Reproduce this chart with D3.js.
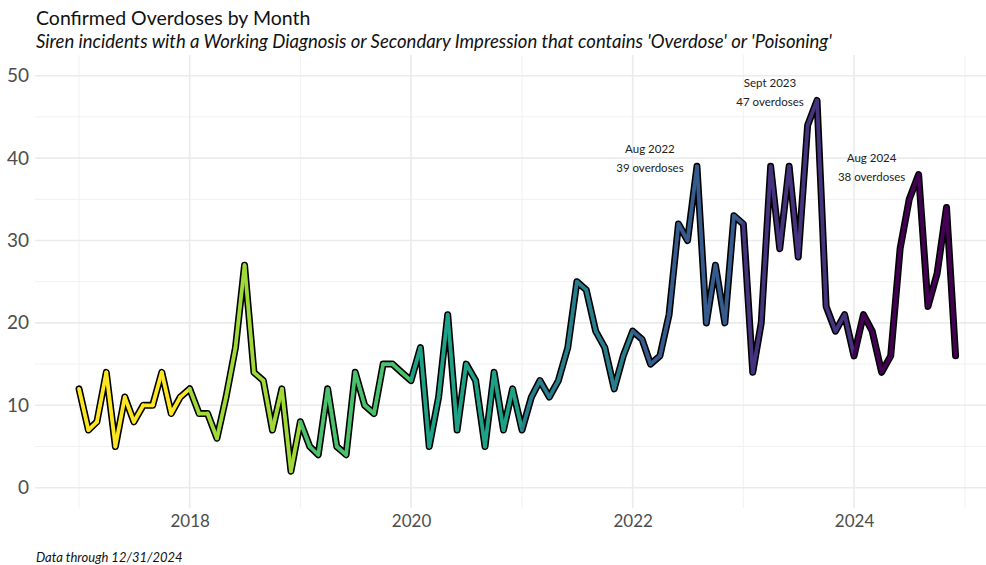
<!DOCTYPE html>
<html>
<head>
<meta charset="utf-8">
<script src="https://cdn.jsdelivr.net/npm/d3@7"></script>
<style>
  html, body { margin: 0; padding: 0; background: #ffffff; }
  svg { display: block; }
  text { font-family: Lato, "Open Sans", "Noto Sans", sans-serif; }
</style>
</head>
<body>
<svg id="chart" width="986" height="565"></svg>
<script>
// ---------- data ----------
const years = [2017, 2018, 2019, 2020, 2021, 2022, 2023, 2024];
const values2017 = [12, 7, 8, 14, 5, 11, 8, 10, 10, 14, 9, 11];
const values2018 = [12, 9, 9, 6, 11, 17, 27, 14, 13, 7, 12, 2];
const values2019 = [8, 5, 4, 12, 5, 4, 14, 10, 9, 15, 15, 14];
const values2020 = [13, 17, 5, 11, 21, 7, 15, 13, 5, 14, 7, 12];
const values2021 = [7, 11, 13, 11, 13, 17, 25, 24, 19, 17, 12, 16];
const values2022 = [19, 18, 15, 16, 21, 32, 30, 39, 20, 27, 20, 33];
const values2023 = [32, 14, 20, 39, 29, 39, 28, 44, 47, 22, 19, 21];
const values2024 = [16, 21, 19, 14, 16, 29, 35, 38, 22, 26, 34, 16];
const yearColors = ["#FDE725", "#9FDA3A", "#4AC16D", "#1FA187", "#277F8E", "#365C8D", "#46337E", "#440154"];
const yTicks = [0, 10, 20, 30, 40, 50];
const xTickYears = [2018, 2020, 2022, 2024];
const annotationMonths = ["2022-08", "2023-09", "2024-08"];
const annotationTitles = ["Aug 2022", "Sept 2023", "Aug 2024"];
const annotationTexts = ["39 overdoses", "47 overdoses", "38 overdoses"];
const titleText = "Confirmed Overdoses by Month";
const subtitleText = "Siren incidents with a Working Diagnosis or Secondary Impression that contains 'Overdose' or 'Poisoning'";
const captionText = "Data through 12/31/2024";

// ---------- build rows ----------
const parseMonth = d3.timeParse("%Y-%m");
const allValues = [values2017, values2018, values2019, values2020, values2021, values2022, values2023, values2024];
const rows = [];
allValues.forEach((arr, yi) => {
  arr.forEach((v, mi) => {
    rows.push({ date: new Date(years[yi], mi, 1), year: years[yi], value: v });
  });
});

// ---------- layout ----------
const svg = d3.select("#chart");
const panel = { left: 35, right: 986, top: 55, bottom: 508 };

const x = d3.scaleTime()
  .domain([new Date(2017, 0, 1), new Date(2025, 0, 1)])
  .range([79, 965]);
const y = d3.scaleLinear().domain([0, 50]).range([487.7, 75.7]);
const color = d3.scaleOrdinal().domain(years).range(yearColors);

// grid
const grid = svg.append("g");
const minorY = d3.range(5, 50, 10);
grid.selectAll(".ymin").data(minorY).join("line")
  .attr("x1", panel.left).attr("x2", panel.right)
  .attr("y1", d => y(d)).attr("y2", d => y(d))
  .attr("stroke", "#f1f1f1").attr("stroke-width", 1);
const minorX = [2017, 2019, 2021, 2023, 2025].map(yr => new Date(yr, 0, 1));
grid.selectAll(".xmin").data(minorX).join("line")
  .attr("x1", d => x(d)).attr("x2", d => x(d))
  .attr("y1", panel.top).attr("y2", panel.bottom)
  .attr("stroke", "#f1f1f1").attr("stroke-width", 1);
grid.selectAll(".ymaj").data(yTicks).join("line")
  .attr("x1", panel.left).attr("x2", panel.right)
  .attr("y1", d => y(d)).attr("y2", d => y(d))
  .attr("stroke", "#ebebeb").attr("stroke-width", 1.6);
grid.selectAll(".xmaj").data(xTickYears.map(yr => new Date(yr, 0, 1))).join("line")
  .attr("x1", d => x(d)).attr("x2", d => x(d))
  .attr("y1", panel.top).attr("y2", panel.bottom)
  .attr("stroke", "#ebebeb").attr("stroke-width", 1.6);

// axes (text only)
const yAxis = svg.append("g").attr("transform", `translate(${panel.left - 6},0)`)
  .call(d3.axisLeft(y).tickValues(yTicks).tickSize(0).tickPadding(0));
yAxis.select(".domain").remove();
yAxis.selectAll("text").attr("font-size", 19).attr("fill", "#4d4d4d")
  .attr("font-family", "Lato, 'Open Sans', sans-serif");

const xAxis = svg.append("g").attr("transform", `translate(0,${panel.bottom})`)
  .call(d3.axisBottom(x).tickValues(xTickYears.map(yr => new Date(yr, 0, 1)))
    .tickFormat(d3.timeFormat("%Y")).tickSize(0).tickPadding(7));
xAxis.select(".domain").remove();
xAxis.selectAll("text").attr("font-size", 17).attr("fill", "#4d4d4d")
  .attr("font-family", "Lato, 'Open Sans', sans-serif");

// line: black outline then coloured segments
const line = d3.line().x(d => x(d.date)).y(d => y(d.value));
svg.append("path").datum(rows)
  .attr("d", line)
  .attr("fill", "none").attr("stroke", "#000").attr("stroke-width", 7)
  .attr("stroke-linejoin", "round").attr("stroke-linecap", "round");

const segs = d3.pairs(rows);
svg.append("g").selectAll("path").data(segs).join("path")
  .attr("d", d => line(d))
  .attr("fill", "none")
  .attr("stroke", d => color(d[0].year))
  .attr("stroke-width", 3.8)
  .attr("stroke-linecap", "round");

// annotations
const annG = svg.append("g");
annotationMonths.forEach((m, i) => {
  const d = rows.find(r => +r.date === +parseMonth(m));
  const ax = x(d.date) - 47;
  const ay = y(d.value);
  annG.append("text").attr("x", ax).attr("y", ay - 17).attr("dy", "0.35em")
    .attr("text-anchor", "middle").attr("font-size", 11.5).attr("fill", "#222")
    .text(annotationTitles[i]);
  annG.append("text").attr("x", ax).attr("y", ay + 2).attr("dy", "0.35em")
    .attr("text-anchor", "middle").attr("font-size", 11.5).attr("fill", "#222")
    .text(annotationTexts[i]);
});

// titles
svg.append("text").attr("x", 36).attr("y", 25).attr("font-size", 19.5).attr("fill", "#111")
  .text(titleText);
svg.append("text").attr("x", 36).attr("y", 48).attr("font-size", 18.5).attr("font-style", "italic").attr("fill", "#111")
  .text(subtitleText);
svg.append("text").attr("x", 36).attr("y", 562).attr("font-size", 13).attr("font-style", "italic").attr("fill", "#111")
  .text(captionText);
</script>
</body>
</html>
